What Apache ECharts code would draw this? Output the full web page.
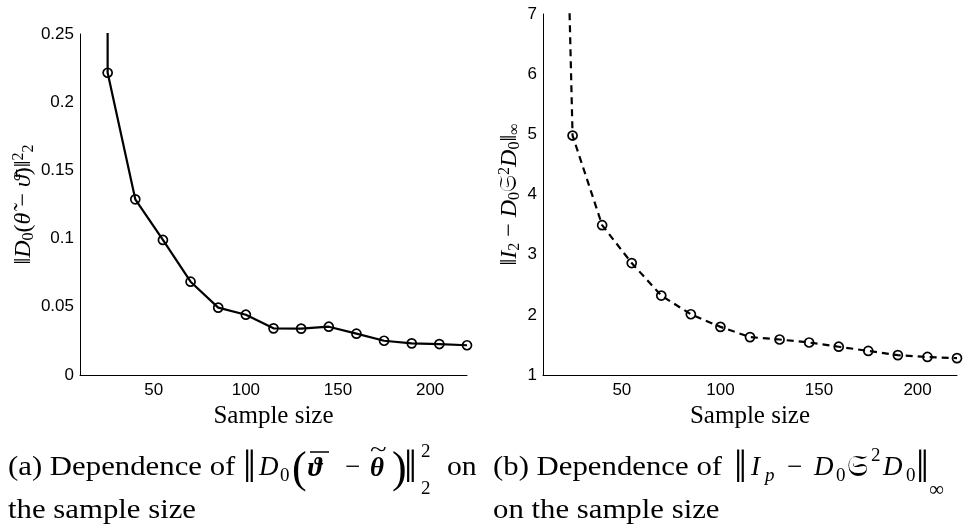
<!DOCTYPE html>
<html>
<head>
<meta charset="utf-8">
<script src="https://cdn.jsdelivr.net/npm/echarts@6/dist/echarts.min.js"></script>
<style>
  html, body { margin: 0; padding: 0; background: #fff; }
  #chart { width: 967px; height: 529px; }
</style>
</head>
<body>
<div id="chart"></div>
<script>
// sample sizes shared by both panels
const sampleSizes = [25, 40, 55, 70, 85, 100, 115, 130, 145, 160, 175, 190, 205, 220];
const xTicks = [50, 100, 150, 200];

// (a) squared error of the estimate
const errA = [0.2216, 0.1288, 0.0990, 0.0684, 0.0494, 0.0442, 0.0342, 0.0340, 0.0354, 0.0303, 0.0251, 0.0232, 0.0227, 0.0218];
const leadA = [24.9, 0.6];   // previous point, off the top of the plot

// (b) sup-norm of I - D S^2 D
const errB = [4.98, 3.49, 2.86, 2.32, 2.01, 1.80, 1.63, 1.59, 1.54, 1.47, 1.40, 1.33, 1.30, 1.28];
const leadB = [20.5, 11];

const yTicksA = [0, 0.05, 0.1, 0.15, 0.2, 0.25];
const yTicksB = [1, 2, 3, 4, 5, 6, 7];

const SANS = '"Liberation Sans", Arial, sans-serif';
const SERIF = '"Liberation Serif", "DejaVu Serif", serif';

function seriesData(xs, ys, lead) {
  const out = [{ value: lead, symbol: 'none' }];
  xs.forEach((x, i) => out.push([x, ys[i]]));
  return out;
}

function xAxisOpt(grid) {
  return {
    gridIndex: grid, type: 'value', min: 10, max: 220,
    name: 'Sample size', nameLocation: 'middle', nameGap: 27,
    nameTextStyle: { fontFamily: SERIF, fontSize: 25, color: '#000' },
    axisLine: { lineStyle: { color: '#000', width: 1 } },
    axisTick: { show: false },
    splitLine: { show: false },
    axisLabel: { customValues: xTicks, color: '#000', fontFamily: SANS, fontSize: 17, margin: 7 }
  };
}

function yAxisOpt(grid, ticks, name, gap, rich) {
  return {
    gridIndex: grid, type: 'value',
    min: ticks[0], max: ticks[ticks.length - 1], interval: ticks[1] - ticks[0],
    name: name, nameLocation: 'middle', nameGap: gap, nameRotate: 90,
    nameTextStyle: { fontFamily: SERIF, fontSize: 24, color: '#000', fontStyle: 'italic', rich: rich },
    axisLine: { show: true, lineStyle: { color: '#000', width: 1 } },
    axisTick: { show: false },
    splitLine: { show: false },
    axisLabel: { color: '#000', fontFamily: SANS, fontSize: 17, margin: 6 }
  };
}

const nameRich = {
  n: { fontFamily: SERIF, fontSize: 24, fontStyle: 'normal', color: '#000' },
  i: { fontFamily: SERIF, fontSize: 24, fontStyle: 'italic', color: '#000' },
  s: { fontFamily: SERIF, fontSize: 16, fontStyle: 'normal', color: '#000', verticalAlign: 'bottom', padding: [10, 0, 0, 0] },
  p: { fontFamily: SERIF, fontSize: 16, fontStyle: 'normal', color: '#000', verticalAlign: 'top', padding: [0, 0, 10, 0] }
};

const lineSeries = (grid, data, dashed) => ({
  type: 'line', xAxisIndex: grid, yAxisIndex: grid, data: data,
  symbol: 'circle', symbolSize: 9, clip: true, animation: false,
  lineStyle: { color: '#000', width: 2.2, type: dashed ? [7, 5] : 'solid' },
  itemStyle: { color: 'rgba(0,0,0,0)', borderColor: '#000', borderWidth: 1.7 }
});

// text piece, y is the vertical centre of the glyph box
function txt(x, y, text, opts, sx) {
  const el = {
    type: 'text', x: x, y: y,
    style: Object.assign({ text: text, fill: '#000', fontFamily: SERIF, fontSize: 27, verticalAlign: 'middle' }, opts || {})
  };
  if (sx) { el.scaleX = sx; }
  return el;
}

const chart = echarts.init(document.getElementById('chart'));
chart.setOption({
  backgroundColor: '#fff',
  animation: false,
  grid: [
    { left: 80, right: 500, top: 34, bottom: 154 },
    { left: 543, right: 10, top: 14, bottom: 154 }
  ],
  xAxis: [xAxisOpt(0), xAxisOpt(1)],
  yAxis: [
    yAxisOpt(0, yTicksA, '{n|‖}{i|D}{s|0}{n|(}{i|θ̃}{n| − }{i|ϑ̄}{n|)‖}{p|2}{s|2}', 43, nameRich),
    yAxisOpt(1, yTicksB, '{n|‖}{i|I}{s|2}{n| − }{i|D}{s|0}{n|𝔖}{p|2}{i|D}{s|0}{n|‖}{s|∞}', 20, nameRich)
  ],
  series: [
    lineSeries(0, seriesData(sampleSizes, errA, leadA), false),
    lineSeries(1, seriesData(sampleSizes, errB, leadB), true)
  ],
  graphic: [
    // caption (a)
    txt(8, 468, '(a) Dependence of', null, 1.14),
    txt(243, 470, '‖', { fontSize: 46 }),
    txt(259, 468, 'D', { fontStyle: 'italic' }),
    txt(280, 476, '0', { fontSize: 19 }),
    txt(292, 470, '(', { fontSize: 44 }),
    txt(308, 469, 'ϑ', { fontStyle: 'italic', fontWeight: 'bold' }),
    { type: 'line', shape: { x1: 310, y1: 452, x2: 329, y2: 452 }, style: { stroke: '#000', lineWidth: 1.5 } },
    txt(345, 468, '−'),
    txt(370, 469, 'θ', { fontStyle: 'italic', fontWeight: 'bold' }),
    txt(370, 450, '~', { fontSize: 22 }, 1.4),
    txt(392, 470, ')', { fontSize: 44 }),
    txt(404, 470, '‖', { fontSize: 46 }),
    txt(421, 452, '2', { fontSize: 19 }),
    txt(421, 489, '2', { fontSize: 19 }),
    txt(447, 468, 'on', null, 1.1),
    txt(8, 511, 'the sample size', null, 1.14),
    // caption (b)
    txt(493, 468, '(b) Dependence of', null, 1.14),
    txt(734, 470, '‖', { fontSize: 46 }),
    txt(751, 468, 'I', { fontStyle: 'italic' }),
    txt(765, 476, 'p', { fontSize: 19, fontStyle: 'italic' }),
    txt(787, 468, '−'),
    txt(814, 468, 'D', { fontStyle: 'italic' }),
    txt(836, 476, '0', { fontSize: 19 }),
    txt(847, 468, '𝔖', { fontSize: 30 }),
    txt(871, 456, '2', { fontSize: 19 }),
    txt(883, 468, 'D', { fontStyle: 'italic' }),
    txt(906, 476, '0', { fontSize: 19 }),
    txt(916, 470, '‖', { fontSize: 46 }),
    txt(929, 490, '∞', { fontSize: 21 }),
    txt(493, 511, 'on the sample size', null, 1.14)
  ]
});
</script>
</body>
</html>
